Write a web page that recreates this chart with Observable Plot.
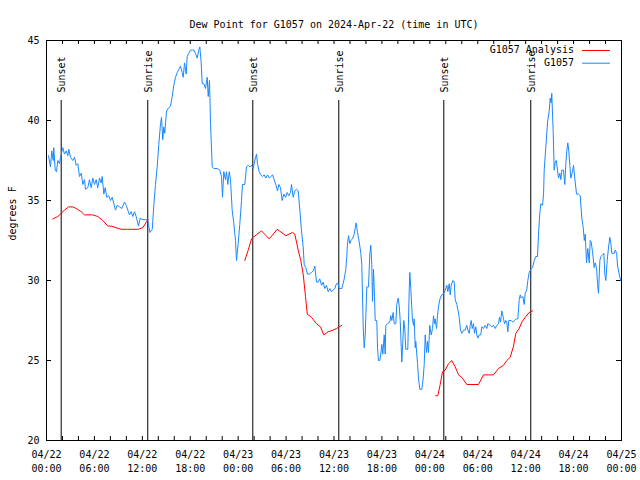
<!DOCTYPE html>
<html><head><meta charset="utf-8">
<script src="https://cdn.jsdelivr.net/npm/d3@7"></script>
<script src="https://cdn.jsdelivr.net/npm/@observablehq/plot@0.6"></script>
<style>body{margin:0;background:#fff}</style>
</head><body><div id="chart"></div>
<script>
const titleText = "Dew Point for G1057 on 2024-Apr-22 (time in UTC)";
const yLabel = "degrees F";
const seriesNames = ["G1057 Analysis", "G1057"];
const seriesColors = ["#ff0000", "#1a88ff"];
const yTicks = [20, 25, 30, 35, 40, 45];
const eventHours = [1.84, 12.68, 25.83, 36.60, 49.75, 60.64];
const eventLabels = ["Sunset", "Sunrise", "Sunset", "Sunrise", "Sunset", "Sunrise"];

// observations (hours since 2024-04-22 00:00 UTC, deg F)
const obsHours = [0.25,0.50,0.66,0.84,0.91,1.09,1.25,1.42,1.63,1.75,2.04,2.25,2.47,2.67,2.79,3.01,3.29,3.51,3.72,3.92,4.13,4.35,4.55,4.76,4.88,5.17,5.38,5.60,5.80,6.01,6.22,6.42,6.64,6.85,6.97,7.18,7.35,7.55,7.80,8.01,8.23,8.43,8.64,8.85,9.14,9.43,9.77,9.98,10.18,10.39,10.61,10.81,11.02,11.23,11.52,11.73,12.06,12.40,12.68,12.94,13.24,13.44,13.65,13.86,14.06,14.28,14.40,14.56,14.69,14.81,15.03,15.31,15.53,15.74,15.94,16.15,16.37,16.57,16.78,16.99,17.12,17.28,17.49,17.62,17.82,18.03,18.24,18.45,18.66,18.87,19.07,19.20,19.37,19.50,19.70,19.91,20.12,20.25,20.41,20.54,20.75,20.95,21.38,21.70,21.91,22.04,22.20,22.41,22.54,22.70,22.88,23.04,23.25,23.45,23.67,23.79,24.00,24.20,24.42,24.54,24.83,25.04,25.26,25.46,25.67,25.88,26.08,26.30,26.42,26.63,26.83,27.05,27.26,27.46,27.67,27.89,28.09,28.30,28.51,28.71,28.93,29.09,29.30,29.51,29.71,29.93,30.14,30.34,30.55,30.68,30.89,31.09,31.31,31.52,31.72,31.93,32.14,32.27,32.47,32.68,32.90,33.18,33.40,33.60,33.81,34.02,34.22,34.44,34.65,34.85,35.06,35.27,35.48,35.69,35.90,36.10,36.31,36.53,36.65,36.98,37.28,37.48,37.60,37.69,37.82,37.98,38.10,38.32,38.53,38.66,38.78,38.94,39.16,39.36,39.48,39.66,39.78,39.91,39.98,40.11,40.32,40.48,40.61,40.73,40.82,40.95,41.07,41.16,41.36,41.45,41.57,41.74,41.86,41.99,42.11,42.29,42.41,42.49,42.70,42.99,43.11,43.24,43.41,43.54,43.74,43.86,44.04,44.17,44.29,44.42,44.49,44.62,44.74,44.87,44.99,45.24,45.42,45.49,45.62,45.74,45.83,45.96,46.04,46.17,46.24,46.46,46.58,46.75,47.00,47.17,47.30,47.42,47.59,47.71,47.83,47.99,48.17,48.34,48.46,48.59,48.67,48.84,48.96,49.09,49.30,49.50,49.75,49.93,50.13,50.25,50.43,50.55,50.68,50.88,51.05,51.18,51.38,51.51,51.68,51.84,52.01,52.22,52.43,52.63,52.76,52.93,53.06,53.18,53.31,53.47,53.59,53.76,53.88,54.01,54.18,54.38,54.51,54.72,54.93,55.14,55.26,55.56,55.76,55.97,56.19,56.39,56.60,56.72,56.85,57.01,57.19,57.35,57.51,57.64,57.77,57.89,58.19,58.39,58.60,58.82,59.02,59.19,59.32,59.44,59.64,59.82,59.94,60.14,60.27,60.44,60.64,60.86,61.07,61.27,61.48,61.61,61.77,61.90,62.11,62.24,62.32,62.52,62.74,62.95,63.07,63.20,63.27,63.45,63.57,63.70,63.83,63.99,64.11,64.28,64.40,64.53,64.74,64.90,65.03,65.15,65.28,65.40,65.53,65.65,65.87,65.99,66.15,66.37,66.62,66.83,67.03,67.21,67.34,67.46,67.62,67.78,67.96,68.08,68.21,68.37,68.58,68.71,68.87,69.00,69.12,69.29,69.41,69.62,69.79,69.91,70.04,70.21,70.38,70.54,70.67,70.79,71.09,71.22,71.39,71.51,71.71,71.91];
const obsValues = [37.8,37.1,38.1,37.5,38.3,36.9,36.8,37.5,37.3,37.7,38.3,37.9,38.1,37.8,38.2,37.7,37.5,37.7,37.2,37.3,36.5,36.7,36.0,36.3,35.7,35.8,36.3,35.8,36.4,36.0,36.3,35.8,36.4,36.1,36.5,35.4,35.8,35.2,35.3,35.0,35.2,34.8,34.4,34.7,34.6,34.5,34.9,34.7,34.4,34.1,34.3,34.0,34.3,34.0,33.4,33.9,33.8,33.8,33.8,33.0,33.2,34.7,36.0,37.1,38.5,39.8,40.2,38.8,39.6,39.2,40.6,40.8,40.9,41.5,42.2,42.7,43.0,43.2,43.4,43.0,42.7,43.6,42.9,44.0,44.2,44.4,44.4,44.4,44.2,43.9,44.4,44.6,43.6,42.3,42.3,42.0,42.7,41.5,42.5,39.8,37.1,37.0,37.0,36.9,36.5,35.2,36.8,36.3,36.8,36.0,36.8,36.3,34.4,33.6,32.5,31.25,32.3,33.5,35.0,36.0,36.0,37.1,37.2,37.1,37.2,37.0,37.5,37.9,37.3,36.8,36.6,36.5,36.6,36.4,36.6,36.4,36.5,36.6,36.3,36.0,35.6,36.0,35.8,35.0,35.4,35.2,35.5,35.3,35.5,36.0,35.2,35.6,35.7,35.6,34.4,33.1,32.1,31.0,30.8,30.4,30.4,30.5,30.6,30.9,29.9,29.9,30.1,29.7,29.9,29.5,29.7,29.3,29.5,29.3,29.4,29.5,29.8,29.8,29.5,29.5,30.1,30.7,31.5,32.3,32.8,32.3,32.5,32.6,32.9,33.3,33.6,33.0,32.4,31.7,31.0,27.1,25.8,26.6,27.7,29.6,29.6,31.6,32.2,31.0,28.7,30.7,29.0,27.5,27.5,25.8,25.0,25.0,25.4,26.0,25.4,26.6,25.4,27.2,27.3,27.4,27.8,27.5,28.0,27.3,27.3,28.5,28.9,28.4,27.5,25.8,24.9,26.2,27.5,26.9,25.7,25.7,29.4,30.5,29.5,28.3,27.5,27.2,27.6,25.8,26.2,24.8,23.9,23.2,23.2,23.9,24.8,26.6,25.5,26.2,25.5,27.2,26.6,27.0,27.8,27.3,27.6,27.0,27.8,28.4,28.9,29.1,29.2,29.4,29.7,29.3,29.8,29.1,29.7,30.0,29.9,28.8,28.5,28.2,27.7,26.9,26.7,26.9,26.9,27.2,26.9,26.7,27.2,27.5,27.0,27.3,26.7,27.1,26.6,26.4,26.6,26.6,27.1,27.0,27.2,27.0,27.3,27.2,27.1,27.2,27.0,27.2,27.3,27.7,27.4,28.1,27.7,27.3,27.5,27.4,26.8,27.5,27.5,27.4,27.5,27.6,27.6,28.8,29.1,28.9,29.0,28.5,29.2,29.4,30.0,30.5,30.7,30.8,31.25,31.5,31.5,32.9,34.2,34.8,34.7,35.4,36.9,38.3,39.9,40.6,41.4,41.1,41.7,39.2,36.9,37.4,37.5,36.9,36.4,36.7,36.3,36.9,36.9,36.0,37.3,38.1,38.6,38.1,37.2,36.4,36.8,37.2,36.4,35.4,35.4,35.3,33.9,33.3,32.5,32.9,31.1,32.0,31.1,32.5,32.4,31.8,30.8,31.1,30.8,29.8,29.2,31.25,31.5,31.6,31.7,30.4,30.0,31.25,32.1,32.7,32.3,31.7,31.7,31.9,31.7,30.9,30.4,30.0];

// analysis (NaN = gap between runs)
const anaHours = [0.79,1.42,1.84,2.25,2.76,3.29,3.72,4.35,4.76,5.80,6.42,7.05,7.68,8.10,9.35,9.98,11.43,12.06,12.68, 18,
  24.83,25.26,25.67,25.88,26.92,27.89,28.89,29.97,30.80,31.09,31.52,31.84,32.14,32.43,32.65,33.18,33.81,34.31,34.72,35.27,35.90,36.31,36.98, 42,
  48.75,49.00,49.30,49.59,49.93,50.34,50.75,51.18,51.59,52.00,52.63,54.09,54.72,55.34,55.97,56.60,57.22,57.64,58.06,58.48,58.77,59.19,59.52,59.94,60.44,60.86];
const anaValues = [33.85,34.0,34.2,34.4,34.6,34.6,34.5,34.3,34.1,34.1,34.0,33.75,33.4,33.4,33.2,33.2,33.2,33.3,33.8, NaN,
  31.25,31.9,32.6,32.7,33.1,32.6,33.2,32.8,33.0,32.9,31.9,31.25,30.4,29.0,27.9,27.7,27.3,27.1,26.6,26.8,26.9,27.0,27.2, NaN,
  22.8,22.8,23.5,24.3,24.4,24.8,25.0,24.6,24.1,23.95,23.5,23.5,24.1,24.1,24.1,24.5,24.7,25.0,25.2,25.9,26.7,27.0,27.4,27.7,28.0,28.1];

const start = Date.UTC(2024, 3, 22);
const toDate = h => new Date(start + h * 3600e3);
const obs = obsHours.map((h, i) => ({t: toDate(h), v: obsValues[i]}));
const ana = anaHours.map((h, i) => ({t: toDate(h), v: anaValues[i]}));
const events = eventHours.map((h, i) => ({t: toDate(h), label: eventLabels[i]}));

const W = 640, H = 480, mL = 46, mR = 19, mT = 40, mB = 40;
const innerW = W - mL - mR, innerH = H - mT - mB;
const minorTicks = d3.utcHours(toDate(0), toDate(72.01), 2);
const majorTicks = d3.utcHours(toDate(0), toDate(72.01), 6);

const svg = Plot.plot({
  width: W, height: H,
  marginLeft: mL, marginRight: mR, marginTop: mT, marginBottom: mB,
  style: {fontFamily: "DejaVu Sans Mono", fontSize: "10px", background: "#fff", color: "#000"},
  x: {type: "utc", domain: [toDate(0), toDate(72)]},
  y: {domain: [20, 45]},
  marks: [
    Plot.axisX(majorTicks, {tickFormat: d3.utcFormat("%m/%d\n%H:%M"), tickSize: 0, tickPadding: 8, lineHeight: 1.4, label: null}),
    Plot.axisY(yTicks, {tickSize: 0, tickPadding: 7, label: null}),
    Plot.tickX(minorTicks, {x: d => d, insetTop: innerH - 4}),
    Plot.tickX(minorTicks, {x: d => d, insetBottom: innerH - 4}),
    Plot.tickY(yTicks, {y: d => d, insetRight: innerW - 5}),
    Plot.tickY(yTicks, {y: d => d, insetLeft: innerW - 5}),
    Plot.ruleX(events, {x: "t", insetTop: 60, stroke: "#000"}),
    Plot.text(events, {x: "t", text: "label", frameAnchor: "top", dy: 52, dx: -3, rotate: -90, textAnchor: "start", fill: "#000"}),
    Plot.line(obs, {x: "t", y: "v", stroke: seriesColors[1], strokeWidth: 1}),
    Plot.line(ana, {x: "t", y: "v", stroke: seriesColors[0], strokeWidth: 1}),
    Plot.frame({stroke: "#000"}),
    Plot.text([titleText], {frameAnchor: "top", dy: -20, fill: "#000"}),
    Plot.text([yLabel], {frameAnchor: "left", dx: -34, rotate: -90, fill: "#000"})
  ]
});

// legend (top-right, inside frame)
const lg = d3.select(svg).append("g").attr("font-family", "DejaVu Sans Mono").attr("font-size", 10);
seriesNames.forEach((name, i) => {
  const y = 50 + i * 12.7;
  lg.append("text").attr("x", 574).attr("y", y).attr("dy", "0.32em").attr("text-anchor", "end").attr("fill", "#000").text(name);
  lg.append("line").attr("x1", 582).attr("x2", 610).attr("y1", y + 0.5).attr("y2", y + 0.5).attr("stroke", seriesColors[i]);
});
document.getElementById("chart").appendChild(svg);
</script>
</body></html>
